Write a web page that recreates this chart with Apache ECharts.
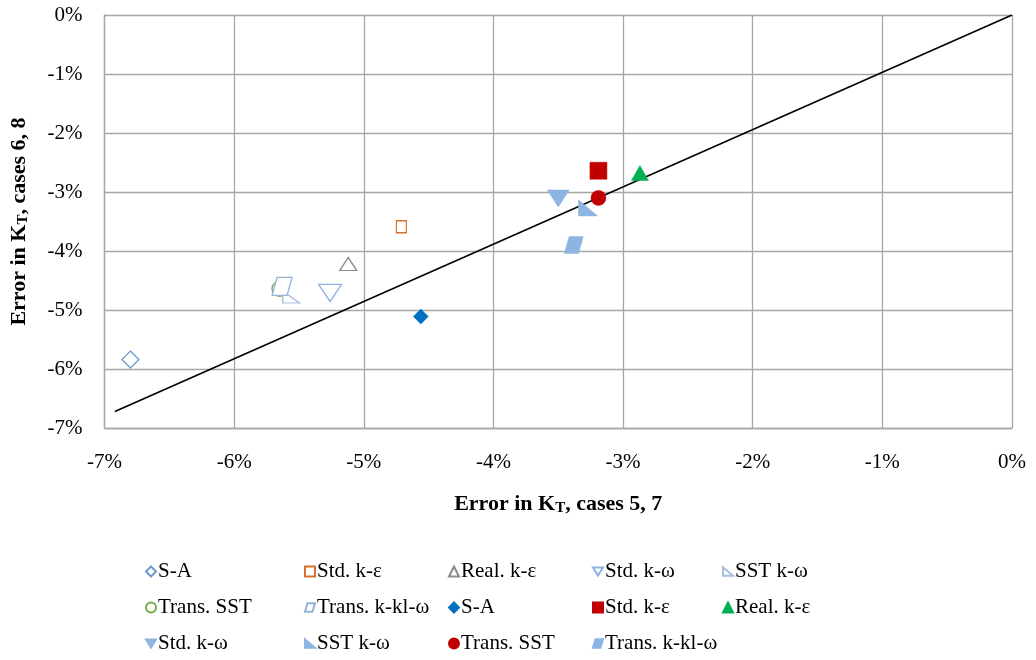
<!DOCTYPE html>
<html>
<head>
<meta charset="utf-8">
<script src="https://cdn.jsdelivr.net/npm/echarts@6/dist/echarts.min.js"></script>
<style>
  html, body { margin: 0; padding: 0; background: #fff; }
  #chart { width: 1036px; height: 660px; }
</style>
</head>
<body>
<div id="chart"></div>
<script>
// Error in K_T (%): x = cases 5, 7 ; y = cases 6, 8
const xTicks = [-7, -6, -5, -4, -3, -2, -1, 0];
const yTicks = [-7, -6, -5, -4, -3, -2, -1, 0];

// Open markers
const openSA        = [[-6.80, -5.84]];
const openStdKE     = [[-4.71, -3.59]];
const openRealKE    = [[-5.12, -4.22]];
const openStdKW     = [[-5.26, -4.71]];
const openSSTKW     = [[-5.56, -4.78]];
const openTransSST  = [[-5.65, -4.64]];
const openTransKKLW = [[-5.63, -4.60]];

// Filled markers
const fillSA        = [[-4.56, -5.11]];
const fillStdKE     = [[-3.19, -2.64]];
const fillRealKE    = [[-2.87, -2.68]];
const fillStdKW     = [[-3.50, -3.11]];
const fillSSTKW     = [[-3.27, -3.27]];
const fillTransSST  = [[-3.19, -3.10]];
const fillTransKKLW = [[-3.38, -3.90]];

// Reference line
const refLine = [[-6.92, -6.72], [0, 0]];

const SYM_DOWN = 'path://M0,0 L10,0 L5,8 Z';
const SYM_RIGHT = 'path://M0,0 L0,10 L12,10 Z';
const SYM_PARA = 'path://M3,0 L12,0 L9,10 L0,10 Z';

const FONT = '"Liberation Serif", "Times New Roman", serif';

function openSeries(id, data, symbol, size, color) {
  return {
    id: id, name: id, type: 'scatter', data: data,
    symbol: symbol, symbolSize: size,
    itemStyle: { color: '#ffffff', borderColor: color, borderWidth: 1.3, opacity: 1 },
    emphasis: { disabled: true }, z: 3
  };
}
function fillSeries(id, data, symbol, size, color) {
  return {
    id: id, name: id, type: 'scatter', data: data,
    symbol: symbol, symbolSize: size,
    itemStyle: { color: color, borderColor: color, borderWidth: 0.5, opacity: 1 },
    emphasis: { disabled: true }, z: 4
  };
}

// Series names carry a suffix so the two sets stay distinct; legend shows the text before '|'
const series = [
  openSeries('S-A|o', openSA, 'diamond', [17, 17], '#6E9BD1'),
  openSeries('Std. k-ε|o', openStdKE, 'rect', [10, 12], '#D8712E'),
  openSeries('Real. k-ε|o', openRealKE, 'triangle', [17, 13], '#8C8C8C'),
  openSeries('Std. k-ω|o', openStdKW, SYM_DOWN, [23, 17], '#8DB2DF'),
  openSeries('SST k-ω|o', openSSTKW, SYM_RIGHT, [17, 12], '#A7BEDC'),
  openSeries('Trans. SST|o', openTransSST, 'circle', [15, 15], '#70AD47'),
  openSeries('Trans. k-kl-ω|o', openTransKKLW, SYM_PARA, [20, 18], '#94B3DA'),
  fillSeries('S-A|f', fillSA, 'diamond', [15, 15], '#0070C0'),
  fillSeries('Std. k-ε|f', fillStdKE, 'rect', [17, 17], '#C00000'),
  fillSeries('Real. k-ε|f', fillRealKE, 'triangle', [17, 15], '#00B050'),
  fillSeries('Std. k-ω|f', fillStdKW, SYM_DOWN, [22, 17], '#8DB4E2'),
  fillSeries('SST k-ω|f', fillSSTKW, SYM_RIGHT, [19, 16], '#8DB4E2'),
  fillSeries('Trans. SST|f', fillTransSST, 'circle', [15, 15], '#C00000'),
  fillSeries('Trans. k-kl-ω|f', fillTransKKLW, SYM_PARA, [19, 17], '#8DB4E2'),
  {
    id: 'ref', name: 'ref', type: 'line', data: refLine,
    showSymbol: false, symbol: 'none', silent: true,
    lineStyle: { color: '#000000', width: 1.6 }, z: 2
  }
];

const columns = [
  ['S-A|o', 'Trans. SST|o', 'Std. k-ω|f'],
  ['Std. k-ε|o', 'Trans. k-kl-ω|o', 'SST k-ω|f'],
  ['Real. k-ε|o', 'S-A|f', 'Trans. SST|f'],
  ['Std. k-ω|o', 'Std. k-ε|f', 'Trans. k-kl-ω|f'],
  ['SST k-ω|o', 'Real. k-ε|f']
];
const columnLeft = [140, 299, 443, 587, 717];

const legends = columns.map((names, i) => ({
  orient: 'vertical',
  left: columnLeft[i],
  top: 556,
  itemGap: 15,
  itemWidth: 10,
  itemHeight: 10,
  selectedMode: false,
  data: names,
  formatter: n => n.split('|')[0],
  textStyle: { fontFamily: FONT, fontSize: 21, color: '#000', padding: [0, 0, 0, -3] }
}));

const axisNameRich = {
  sub: { fontFamily: FONT, fontSize: 15, fontWeight: 'bold', color: '#000', padding: [8, 0, 0, 0] }
};

const option = {
  backgroundColor: '#ffffff',
  animation: false,
  grid: { left: 104, top: 15, width: 908, height: 413, containLabel: false },
  legend: legends,
  xAxis: {
    type: 'value', min: -7, max: 0, interval: 1,
    name: 'Error in K{sub|T}, cases 5, 7',
    nameLocation: 'middle', nameGap: 65,
    nameTextStyle: { fontFamily: FONT, fontSize: 22, fontWeight: 'bold', color: '#000', rich: axisNameRich },
    axisLine: { show: true, onZero: false, lineStyle: { color: '#A6A6A6', width: 1.3 } },
    axisTick: { show: false },
    splitLine: { show: true, lineStyle: { color: '#A6A6A6', width: 1.3 } },
    axisLabel: {
      margin: 24, fontFamily: FONT, fontSize: 21, color: '#000',
      formatter: v => xTicks.includes(v) ? v + '%' : ''
    }
  },
  yAxis: {
    type: 'value', min: -7, max: 0, interval: 1,
    name: 'Error in K{sub|T}, cases 6, 8',
    nameLocation: 'middle', nameGap: 74,
    nameTextStyle: { fontFamily: FONT, fontSize: 22, fontWeight: 'bold', color: '#000', rich: axisNameRich },
    axisLine: { show: true, onZero: false, lineStyle: { color: '#A6A6A6', width: 1.3 } },
    axisTick: { show: false },
    splitLine: { show: true, lineStyle: { color: '#A6A6A6', width: 1.3 } },
    axisLabel: {
      margin: 22, fontFamily: FONT, fontSize: 21, color: '#000',
      formatter: v => yTicks.includes(v) ? v + '%' : ''
    }
  },
  series: series
};

const chart = echarts.init(document.getElementById('chart'), null, { renderer: 'canvas' });
chart.setOption(option);
</script>
</body>
</html>
